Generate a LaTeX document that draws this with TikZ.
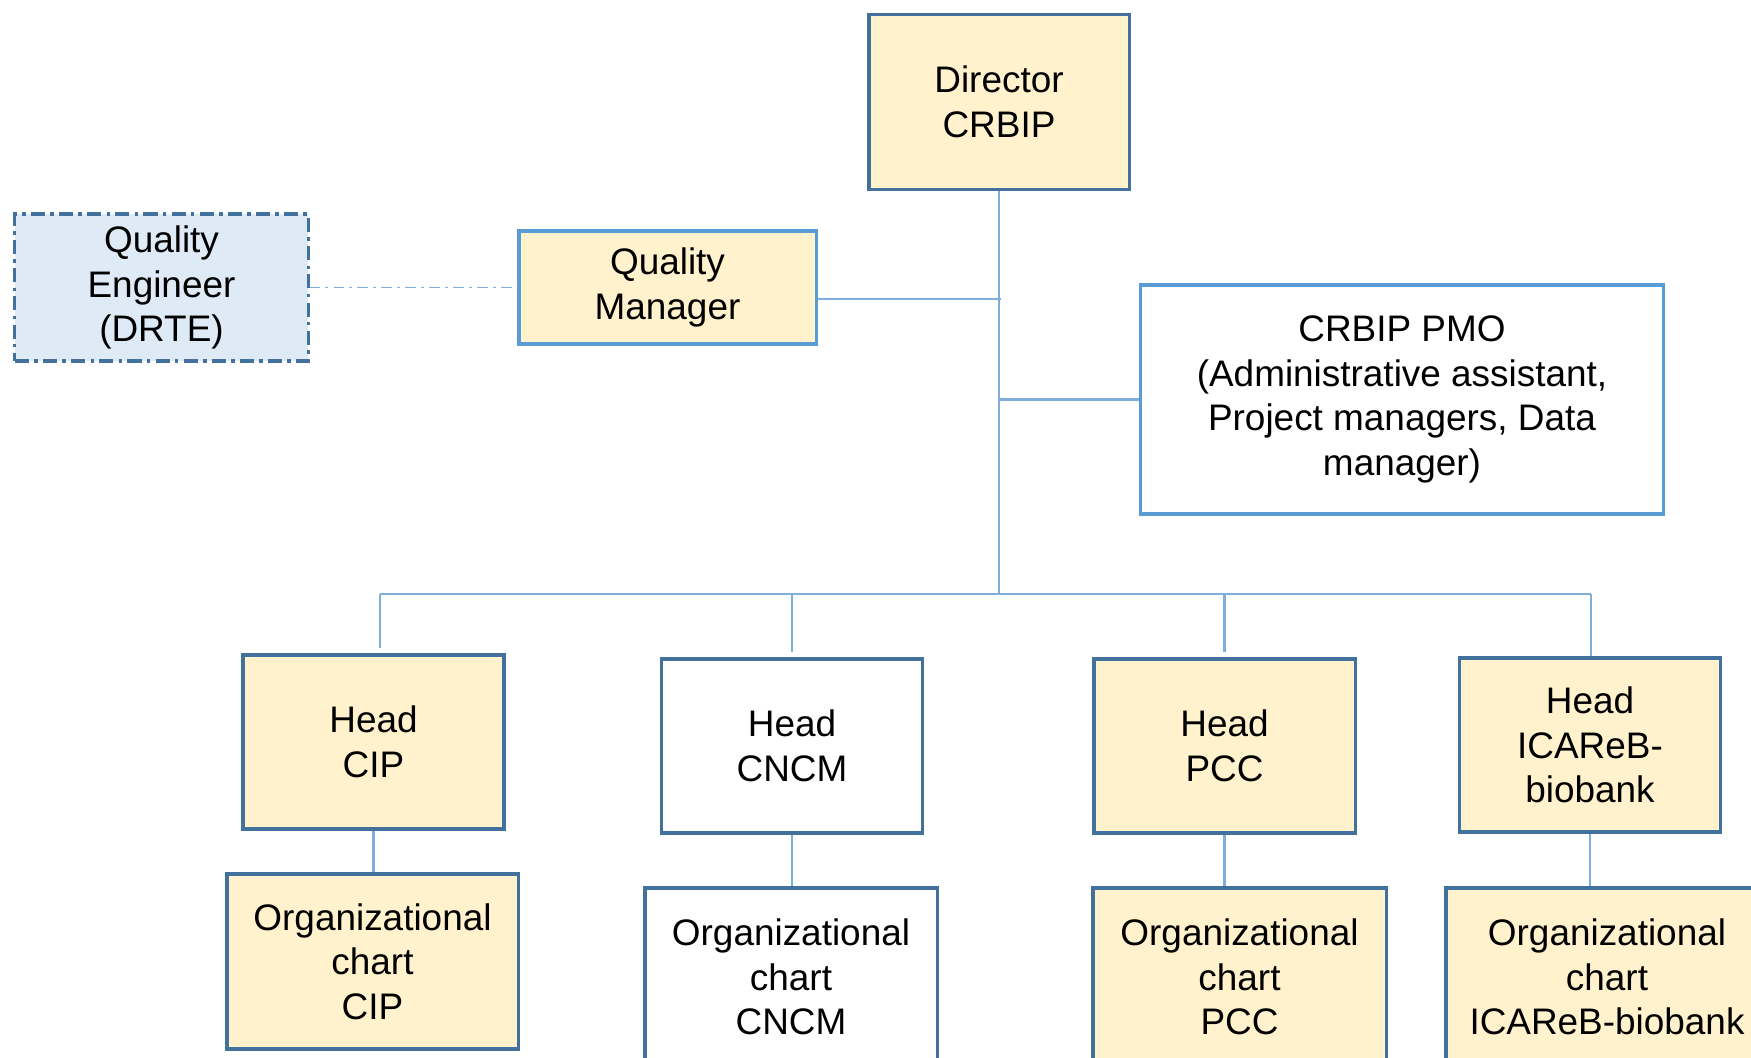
\documentclass[tikz,border=0pt]{standalone}
\usepackage{fontspec}
\setmainfont{Liberation Sans}
\definecolor{boxline}{HTML}{41719C}
\definecolor{lightline}{HTML}{5B9BD5}
\definecolor{linkline}{HTML}{7EAEDB}
\definecolor{boxfill}{HTML}{FFF2CC}
\definecolor{engfill}{HTML}{DEEBF7}
\begin{document}
\begin{tikzpicture}[x=0.01cm, y=-0.01cm,
        every node/.style={font=\fontsize{10.5}{12.7}\selectfont, align=center, inner sep=0pt},
        box/.style={rectangle, draw=boxline, line width=0.9pt},
        yellowbox/.style={box, fill=boxfill},
        link/.style={draw=linkline, line width=0.6pt}]
        \useasboundingbox (0,0) rectangle (1751,1058);

        \node at (999,102) [yellowbox, minimum width=2.60cm, minimum height=1.745cm] (director) {Director\\CRBIP};

        \node at (161.5,287.5) [box, fill=engfill, dash pattern=on 4pt off 1.5pt on 1pt off 1.5pt, minimum width=2.93cm, minimum height=1.47cm] (quality_eng) {Quality\\Engineer\\(DRTE)};
        \node at (667.5,287.5) [yellowbox, draw=lightline, minimum width=2.97cm, minimum height=1.13cm] (quality_mgr) {Quality\\Manager};
        \node at (1402,399.5) [box, draw=lightline, fill=white, minimum width=5.22cm, minimum height=2.29cm] (pmo) {CRBIP PMO\\(Administrative assistant,\\Project managers, Data\\manager)};

        \node at (373.5,742) [yellowbox, minimum width=2.61cm, minimum height=1.74cm] (head_cip) {Head\\CIP};
        \node at (792,746) [box, fill=white, minimum width=2.61cm, minimum height=1.74cm] (head_cncm) {Head\\CNCM};
        \node at (1224.5,746) [yellowbox, minimum width=2.61cm, minimum height=1.74cm] (head_pcc) {Head\\PCC};
        \node at (1590,745) [yellowbox, minimum width=2.61cm, minimum height=1.74cm] (head_icareb) {Head\\ICAReB-\\biobank};

        \node at (372.5,961.5) [yellowbox, minimum width=2.91cm, minimum height=1.75cm] (org_cip) {Organizational\\chart\\CIP};
        \node at (791,977) [box, fill=white, minimum width=2.92cm, minimum height=1.78cm] (org_cncm) {Organizational\\chart\\CNCM};
        \node at (1239.5,977) [yellowbox, minimum width=2.93cm, minimum height=1.78cm] (org_pcc) {Organizational\\chart\\PCC};
        \node at (1607,977) [yellowbox, minimum width=3.22cm, minimum height=1.78cm] (org_icareb) {Organizational\\chart\\ICAReB-biobank};

        \coordinate (qm_join) at (1001,299);
        \coordinate (pmo_join) at (999,399.5);
        \coordinate (bus) at (999,594);
        \coordinate (bus_left) at (380,594);
        \coordinate (bus_right) at (1591,594);

        \draw[link] (director.south) -- (bus);
        \draw[link] (qm_join) -- (qm_join -| quality_mgr.east);
        \draw[link] (pmo_join) -- (pmo.west);
        \draw[link, line width=0.5pt, dash pattern=on 3pt off 1.5pt on 0.8pt off 1.5pt] (quality_eng.east) -- (quality_mgr.west);
        \draw[link] (bus_left) -- (bus_right);

        \draw[link] (bus_left) -- ([yshift=0.05cm]bus_left |- head_cip.north);
        \draw[link] (head_cncm.north |- bus) -- ([yshift=0.05cm]head_cncm.north);
        \draw[link] (head_pcc.north |- bus) -- ([yshift=0.05cm]head_pcc.north);
        \draw[link] (bus_right) -- (bus_right |- head_icareb.north);

        \draw[link] (head_cip.south) -- (head_cip.south |- org_cip.north);
        \draw[link] (head_cncm.south) -- (head_cncm.south |- org_cncm.north);
        \draw[link] (head_pcc.south) -- (head_pcc.south |- org_pcc.north);
        \draw[link] (head_icareb.south) -- (head_icareb.south |- org_icareb.north);
\end{tikzpicture}
\end{document}
